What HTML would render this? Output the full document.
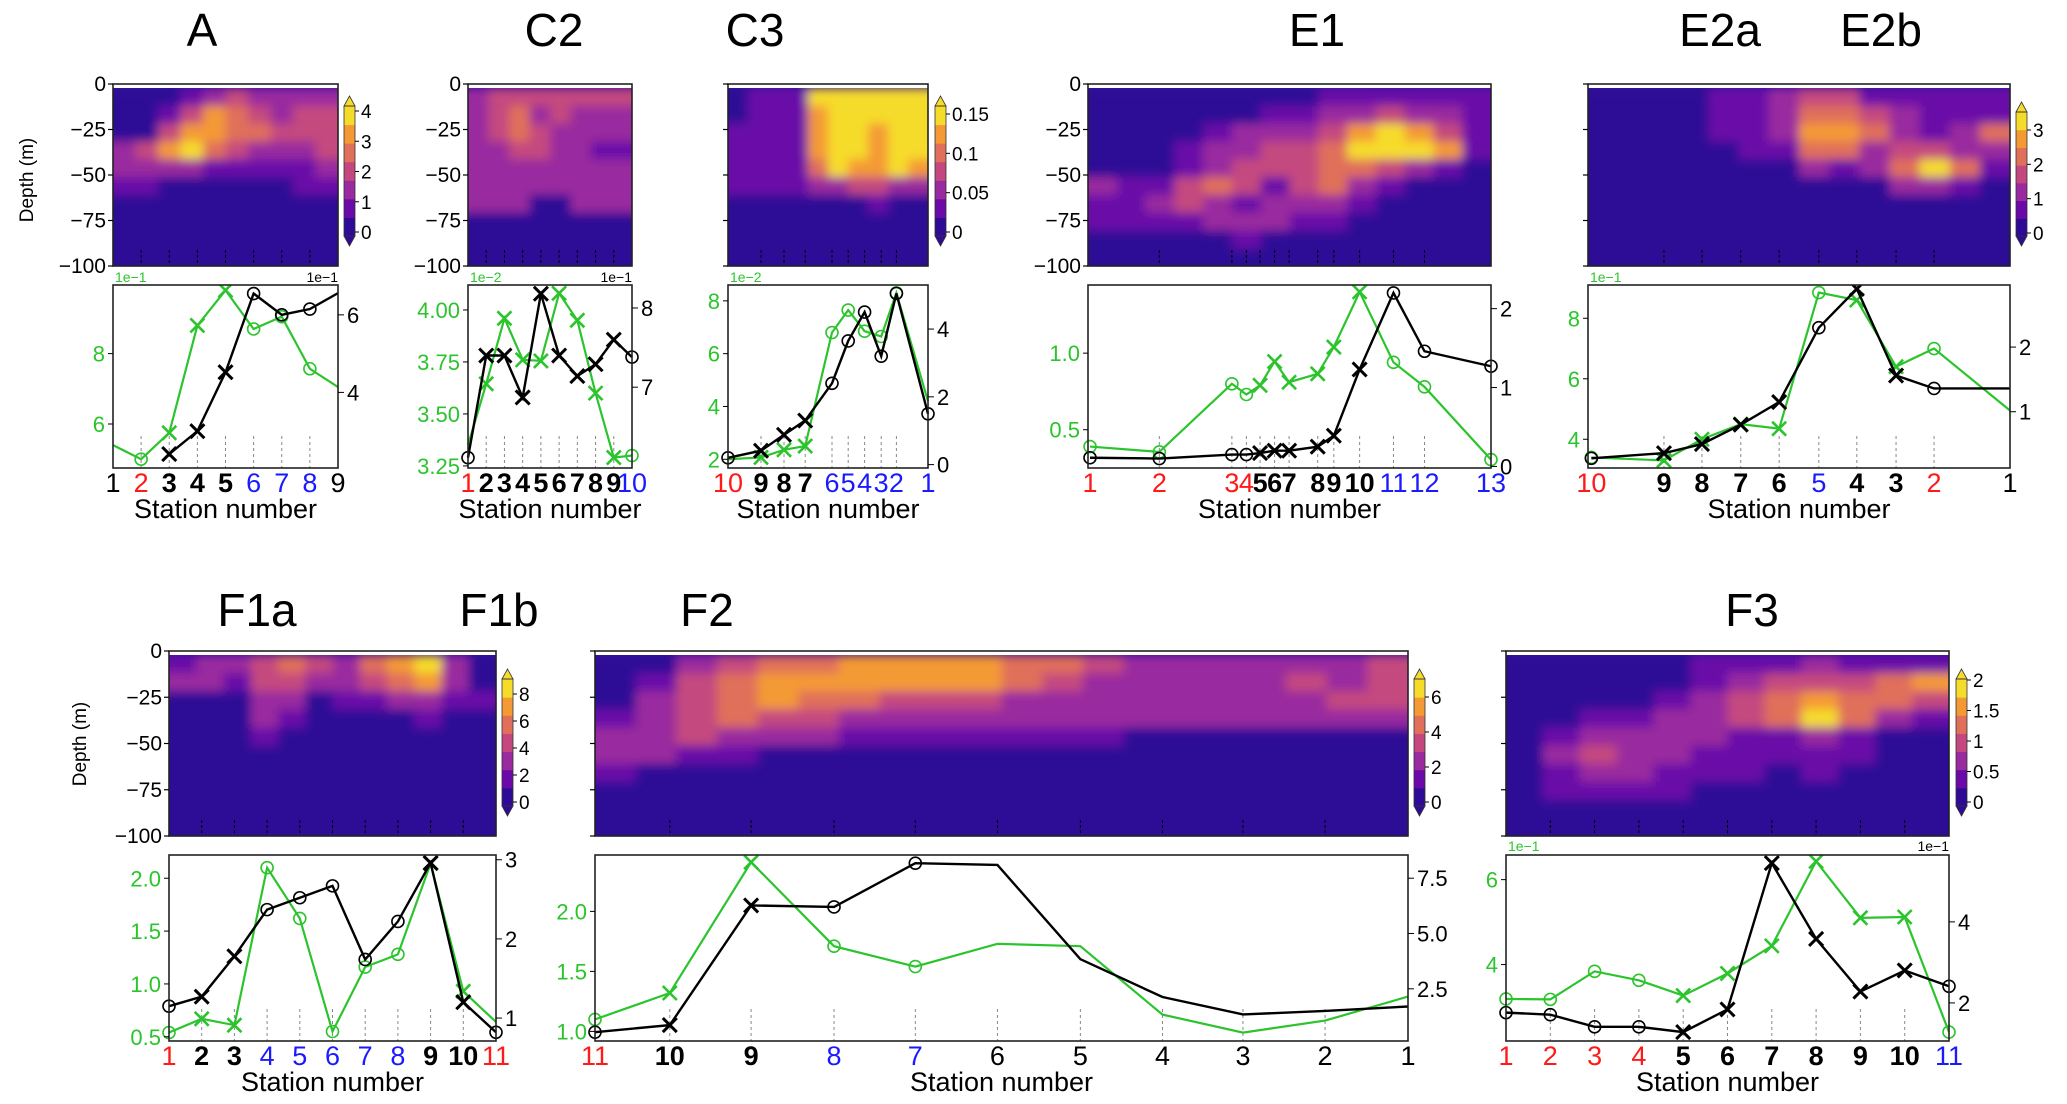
<!DOCTYPE html>
<html><head><meta charset="utf-8"><style>
html,body{margin:0;padding:0;background:#fff;}
svg{display:block;}
text{font-family:"Liberation Sans",sans-serif;}
</style></head><body>
<svg id="fig" xmlns="http://www.w3.org/2000/svg" width="2067" height="1104" viewBox="0 0 2067 1104">
<defs>
<filter id="blur" x="-5%" y="-5%" width="110%" height="110%"><feGaussianBlur stdDeviation="5"/></filter>
</defs>
<g id="root"></g>
</svg>
<script>
// ---------------- DATA ----------------
const A_labels=['1','2','3','4','5','6','7','8','9'];
const A_lstyle=['k','r','b','b','b','u','u','u','k'];
const A_pos=[0,0.125,0.25,0.375,0.5,0.625,0.75,0.875,1];
const A_green=[5.4,5.0,5.75,8.8,9.8,8.7,9.05,7.57,7.05];
const A_gmark=['-','o','x','x','x','o','o','o','-'];
const A_black=[null,null,2.41,3.0,4.52,6.55,6.0,6.15,6.56];
const A_kmark=['-','-','x','x','x','o','o','o','-'];
const A_gticks=[6,8];
const A_kticks=[4,6];
const A_grid=[
[0,0,.1,.25,.4,.45,.35,.3,.4,.35],
[0,0,.15,.45,.7,.6,.5,.35,.5,.5],
[0,0,.45,.7,.8,.65,.55,.45,.5,.5],
[.3,.45,.7,.95,.6,.5,.4,.35,.3,.45],
[.3,.3,.4,.4,.25,.2,.2,.2,.25,.3],
[.2,.15,.1,0,0,0,0,0,.15,.2],
[0,0,0,0,0,0,0,0,0,0],[0,0,0,0,0,0,0,0,0,0],[0,0,0,0,0,0,0,0,0,0],[0,0,0,0,0,0,0,0,0,0]];
const C2_labels=['1','2','3','4','5','6','7','8','9','10'];
const C2_lstyle=['r','b','b','b','b','b','b','b','b','u'];
const C2_pos=[0,1/9,2/9,3/9,4/9,5/9,6/9,7/9,8/9,1];
const C2_green=[3.35,3.645,3.96,3.76,3.755,4.08,3.95,3.6,3.29,3.3];
const C2_gmark=['-','x','x','x','x','x','x','x','x','o'];
const C2_black=[6.11,7.4,7.4,6.87,8.18,7.4,7.14,7.29,7.6,7.38];
const C2_kmark=['o','x','x','x','x','x','x','x','x','o'];
const C2_gticks=[3.25,3.5,3.75,4.0];
const C2_kticks=[7,8];
const C2_grid=[
[.4,.45,.45,.45,.5,.45,.45,.45],
[.4,.5,.55,.4,.45,.4,.35,.35],
[.35,.45,.55,.45,.4,.35,.3,.3],
[.35,.4,.5,.5,.4,.35,.25,.25],
[.35,.35,.4,.35,.35,.3,.3,.3],
[.35,.4,.35,.35,.3,.3,.3,.3],
[.3,.3,.3,.1,.1,.3,.3,.3],
[0,0,0,0,0,0,0,0],[0,0,0,0,0,0,0,0],[0,0,0,0,0,0,0,0]];
const C3_labels=['10','9','8','7','6','5','4','3','2','1'];
const C3_lstyle=['r','b','b','b','u','u','u','u','u','u'];
const C3_pos=[0,0.165,0.28,0.386,0.52,0.601,0.683,0.766,0.842,1];
const C3_green=[2.0,2.07,2.36,2.5,6.8,7.65,6.85,6.65,8.3,4.2];
const C3_gmark=['-','x','x','x','o','o','o','o','o','-'];
const C3_black=[0.2,0.41,0.88,1.3,2.4,3.65,4.5,3.2,5.05,1.5];
const C3_kmark=['o','x','x','x','o','o','o','o','o','o'];
const C3_gticks=[2,4,6,8];
const C3_kticks=[0,2,4];
const C3_grid=[
[0,.25,.25,.25,.9,.9,.9,.9,.9,.9],
[0,.25,.25,.25,.7,.9,.85,.9,.95,.9],
[.2,.25,.25,.25,.8,1,.9,.8,1,.9],
[.2,.25,.25,.25,.8,1,.95,.75,1,.9],
[.25,.25,.25,.25,.6,.85,.8,.7,.85,.7],
[.2,.2,.2,.2,.3,.4,.45,.5,.4,.3],
[0,0,0,0,0,0,0,.15,0,0],
[0,0,0,0,0,0,0,0,0,0],[0,0,0,0,0,0,0,0,0,0],[0,0,0,0,0,0,0,0,0,0]];
const E1_labels=['1','2','3','4','5','6','7','8','9','10','11','12','13'];
const E1_lstyle=['r','r','r','r','b','b','b','b','b','b','u','u','u'];
const E1_pos=[0.005,0.177,0.357,0.393,0.427,0.463,0.499,0.57,0.61,0.674,0.758,0.835,1];
const E1_green=[0.39,0.355,0.8,0.73,0.79,0.945,0.81,0.865,1.04,1.4,0.94,0.78,0.305];
const E1_gmark=['o','o','o','o','x','x','x','x','x','x','o','o','o'];
const E1_black=[0.11,0.1,0.15,0.15,0.17,0.2,0.2,0.25,0.39,1.23,2.2,1.46,1.27];
const E1_kmark=['o','o','o','o','x','x','x','x','x','x','o','o','o'];
const E1_gticks=[0.5,1.0];
const E1_kticks=[0,1,2];
const E1_grid=[
[0,0,0,0,0,0,0,0,.2,.25,.25,.25,.25,.2],
[0,0,0,0,0,.1,.2,.25,.3,.35,.45,.4,.3,.25],
[0,0,0,0,.2,.3,.3,.35,.45,.8,.85,.7,.5,.25],
[0,0,0,.2,.3,.4,.45,.5,.65,.9,.95,.95,.75,.2],
[0,0,0,.25,.4,.5,.45,.5,.6,.6,.5,.3,.2,0],
[.3,.2,.2,.45,.55,.45,.2,.45,.55,.3,.2,0,0,0],
[.25,.25,.35,.45,.35,.2,.4,.3,.3,.2,0,0,0,0],
[.2,.2,.25,.25,.3,.4,.3,.2,.2,0,0,0,0,0],
[0,0,0,0,.1,.2,.1,0,0,0,0,0,0,0],
[0,0,0,0,0,0,0,0,0,0,0,0,0,0]];
const E2_labels=['10','9','8','7','6','5','4','3','2','1'];
const E2_lstyle=['r','b','b','b','b','u','b','b','r','k'];
const E2_pos=[0.008,0.18,0.27,0.362,0.453,0.547,0.637,0.73,0.82,1];
const E2_green=[3.4,3.3,4.0,4.5,4.35,8.85,8.6,6.4,7.0,4.95];
const E2_gmark=['o','x','x','x','x','o','x','x','o','-'];
const E2_black=[0.28,0.36,0.5,0.8,1.15,2.3,2.9,1.56,1.36,1.36];
const E2_kmark=['o','x','x','x','x','o','x','x','o','-'];
const E2_gticks=[4,6,8];
const E2_kticks=[1,2];
const E2_grid=[
[0,0,0,0,.25,.25,.3,.45,.5,.25,.25,.25,.25,.25],
[0,0,0,0,.2,.2,.35,.55,.6,.45,.3,.25,.25,.25],
[0,0,0,0,.2,.25,.3,.7,.75,.55,.3,.25,.35,.65],
[0,0,0,0,.1,.2,.25,.6,.55,.4,.45,.5,.4,.3],
[0,0,0,0,0,.1,.1,.3,.25,.3,.55,.85,.6,.2],
[0,0,0,0,0,0,0,0,0,.1,.3,.4,.2,0],
[0,0,0,0,0,0,0,0,0,0,0,0,0,0],[0,0,0,0,0,0,0,0,0,0,0,0,0,0],[0,0,0,0,0,0,0,0,0,0,0,0,0,0],[0,0,0,0,0,0,0,0,0,0,0,0,0,0]];
const F1_labels=['1','2','3','4','5','6','7','8','9','10','11'];
const F1_lstyle=['r','b','b','u','u','u','u','u','b','b','r'];
const F1_pos=[0,.1,.2,.3,.4,.5,.6,.7,.8,.9,1];
const F1_green=[0.54,0.67,0.61,2.1,1.62,0.55,1.16,1.28,2.14,0.93,0.64];
const F1_gmark=['o','x','x','o','o','o','o','o','x','x','-'];
const F1_black=[1.15,1.27,1.78,2.37,2.52,2.67,1.74,2.22,2.96,1.2,0.82];
const F1_kmark=['o','x','x','o','o','o','o','o','x','x','o'];
const F1_gticks=[0.5,1.0,1.5,2.0];
const F1_kticks=[1,2,3];
const F1_grid=[
[.25,.3,.3,.5,.55,.45,.35,.55,.7,.9,.3,0],
[.3,.35,.25,.45,.5,.3,.3,.45,.6,.7,.3,.1],
[0,0,.1,.35,.3,.1,.15,.2,.3,.4,.2,.15],
[0,0,0,.3,.15,0,0,0,.1,.2,0,.05],
[0,0,0,.2,0,0,0,0,0,0,0,.05],
[0,0,0,0,0,0,0,0,0,0,0,0],[0,0,0,0,0,0,0,0,0,0,0,0],[0,0,0,0,0,0,0,0,0,0,0,0],[0,0,0,0,0,0,0,0,0,0,0,0],[0,0,0,0,0,0,0,0,0,0,0,0]];
const F2_labels=['11','10','9','8','7','6','5','4','3','2','1'];
const F2_lstyle=['r','b','b','u','u','k','k','k','k','k','k'];
const F2_pos=[0,0.092,0.192,0.294,0.394,0.495,0.597,0.698,0.797,0.898,1];
const F2_green=[1.1,1.32,2.41,1.71,1.54,1.73,1.71,1.14,0.99,1.09,1.29];
const F2_gmark=['o','x','x','o','o','-','-','-','-','-','-'];
const F2_black=[0.54,0.86,6.27,6.2,8.18,8.1,3.84,2.13,1.34,1.5,1.7];
const F2_kmark=['o','x','x','o','o','-','-','-','-','-','-'];
const F2_gticks=[1.0,1.5,2.0];
const F2_kticks=[2.5,5.0,7.5];
const F2_grid=[
[0,0,.3,.5,.6,.65,.7,.7,.7,.7,.65,.6,.5,.4,.35,.35,.35,.35,.4,.5],
[0,.25,.45,.6,.75,.75,.7,.75,.8,.75,.6,.5,.4,.35,.35,.35,.4,.5,.4,.45],
[0,.35,.45,.55,.75,.65,.55,.5,.45,.45,.4,.35,.35,.35,.35,.35,.35,.35,.45,.45],
[.25,.35,.5,.55,.5,.45,.35,.35,.35,.3,.3,.3,.3,.3,.3,.3,.3,.3,.3,.3],
[.3,.4,.45,.4,.3,.3,.25,.25,.25,.2,.2,.2,.2,.1,.1,.1,.1,.1,.1,.1],
[.35,.3,.25,.2,.1,.05,0,0,0,0,0,0,0,0,0,0,0,0,0,0],
[.2,.1,0,0,0,0,0,0,0,0,0,0,0,0,0,0,0,0,0,0],
[0,0,0,0,0,0,0,0,0,0,0,0,0,0,0,0,0,0,0,0],[0,0,0,0,0,0,0,0,0,0,0,0,0,0,0,0,0,0,0,0],[0,0,0,0,0,0,0,0,0,0,0,0,0,0,0,0,0,0,0,0]];
const F3_labels=['1','2','3','4','5','6','7','8','9','10','11'];
const F3_lstyle=['r','r','r','r','b','b','b','b','b','b','u'];
const F3_pos=[0,.1,.2,.3,.4,.5,.6,.7,.8,.9,1];
const F3_green=[3.19,3.18,3.84,3.63,3.27,3.79,4.44,6.43,5.1,5.12,2.41];
const F3_gmark=['o','o','o','o','x','x','x','x','x','x','o'];
const F3_black=[1.76,1.71,1.41,1.41,1.28,1.84,5.45,3.58,2.28,2.8,2.41];
const F3_kmark=['o','o','o','o','x','x','x','x','x','x','o'];
const F3_gticks=[4,6];
const F3_kticks=[2,4];
const F3_grid=[
[0,0,0,0,0,.25,.25,.25,.3,.25,.25,.25],
[0,0,0,0,.1,.25,.3,.45,.5,.45,.55,.75],
[0,0,0,0,.2,.3,.5,.6,.7,.6,.65,.5],
[.1,.1,.2,.25,.3,.35,.45,.65,.95,.65,.3,.2],
[.1,.25,.35,.3,.35,.3,.25,.2,.3,.2,.1,.1],
[.1,.35,.5,.4,.3,.25,.2,.2,.25,.2,.1,0],
[.1,.2,.35,.3,.25,.2,.15,.1,.15,.1,0,0],
[0,.2,.25,.2,.15,.1,.1,0,0,0,0,0],
[0,0,.1,.05,0,0,0,0,0,0,0,0],
[0,0,0,0,0,0,0,0,0,0,0,0]];
const A_cbticks=['0','1','2','3','4'];
const C3_cbticks=['0','0.05','0.1','0.15'];
const E2_cbticks=['0','1','2','3'];
const F1_cbticks=['0','2','4','6','8'];
const F2_cbticks=['0','2','4','6'];
const F3_cbticks=['0','0.5','1','1.5','2'];
const depthTicks=[0,-25,-50,-75,-100];

// ---------------- RENDER ----------------
const NS='http://www.w3.org/2000/svg';
const root=document.getElementById('root');
function el(tag,attrs,parent){const e=document.createElementNS(NS,tag);for(const k in attrs)e.setAttribute(k,attrs[k]);(parent||root).appendChild(e);return e;}
const BANDS=['#2f0a96','#6b0aa8','#9a2a9f','#c4487f','#e0705a','#f49a34','#f6dc2a'];
function bandColor(v){let i=Math.floor(v*7+0.15);if(i<0)i=0;if(i>6)i=6;return BANDS[i];}
let clipN=0;
function contour(name,x0,x1,y0,y1,grid,ticksPos,showLabels){
  const g=el('g',{});
  
  
  const id='clip'+(clipN++);
  const cp=el('clipPath',{id:id},g);el('rect',{x:x0,y:y0,width:x1-x0,height:y1-y0},cp);
  const inner=el('g',{'clip-path':'url(#'+id+')'},g);
  el('rect',{x:x0,y:y0,width:x1-x0,height:y1-y0,fill:BANDS[0]},inner);
  const bl=el('g',{filter:'url(#blur)'},inner);
  const rows=grid.length,cols=grid[0].length;
  const dy0=y0+4;const ch=(y1-dy0)/rows,cw=(x1-x0)/cols;
  for(let r=0;r<rows;r++)for(let c=0;c<cols;c++){
    let x=x0+c*cw,w=cw+0.6,y=dy0+r*ch,h=ch+0.6;
    if(c===0){x-=20;w+=20;} if(c===cols-1){w+=20;} if(r===rows-1){h+=20;}
    const cell=el('rect',{x:x,y:y,width:w,height:h,fill:bandColor(grid[r][c])},bl);
    
    
  }
  el('rect',{x:x0,y:y0,width:x1-x0,height:4,fill:'#fff'},inner);
  ticksPos.forEach(p=>{if(p>0.02&&p<0.98){const x=x0+p*(x1-x0);el('line',{x1:x,x2:x,y1:y1-16,y2:y1,stroke:'#000','stroke-width':1,'stroke-dasharray':'3,2'},g);}});
  el('rect',{x:x0,y:y0,width:x1-x0,height:y1-y0,fill:'none',stroke:'#222','stroke-width':1.6},g);
  depthTicks.forEach(d=>{const y=y0+(-d)/100*(y1-y0);el('line',{x1:x0-5,x2:x0,y1:y,y2:y,stroke:'#000','stroke-width':1.2},g);
    if(showLabels){const t=el('text',{x:x0-7,y:y+7,'text-anchor':'end','font-size':21,fill:'#000'},g);t.textContent=(d<0?'\u2212'+(-d):'0');}});
}
function colorbar(name,x,yTop,yBot){
  const g=el('g',{});
  
  
  const w=11,h=yBot-yTop,bh=h/7;
  for(let i=0;i<7;i++){el('rect',{x:x,y:yBot-(i+1)*bh,width:w,height:bh+0.5,fill:BANDS[i]},g);}
  el('polygon',{points:`${x},${yTop} ${x+w},${yTop} ${x+w/2},${yTop-10}`,fill:BANDS[6],stroke:'#333','stroke-width':0.8},g);
  el('polygon',{points:`${x},${yBot} ${x+w},${yBot} ${x+w/2},${yBot+10}`,fill:BANDS[0],stroke:'#333','stroke-width':0.8},g);
  el('rect',{x:x,y:yTop,width:w,height:h,fill:'none',stroke:'#333','stroke-width':0.8},g);
  return g;
}
function colorbarTicks(g,x,yZero,yTopTick,labels){
  const n=labels.length;
  labels.forEach((l,i)=>{const y=yZero-(yZero-yTopTick)*i/(n-1);
    el('line',{x1:x+11,x2:x+15,y1:y,y2:y,stroke:'#000','stroke-width':1},g);
    const t=el('text',{x:x+17,y:y+7,'font-size':19,fill:'#000'},g);t.textContent=l;});
}
const GREEN='#2cc42c';
function marker(g,type,x,y,col,sw){
  if(type==='o'){const c=el('circle',{cx:x,cy:y,r:6,fill:'none',stroke:col,'stroke-width':1.6},g);}
  else if(type==='x'){const s=7;const p=el('path',{d:`M${x-s},${y-s}L${x+s},${y+s}M${x-s},${y+s}L${x+s},${y-s}`,stroke:col,'stroke-width':sw,fill:'none'},g);}
}
function linePlot(name,x0,x1,y0,y1,pos,green,gmark,black,kmark,gr,kr,gticks,kticks,labels,lstyle,gfmt,kfmt){
  const g=el('g',{});
  
  
  const X=p=>x0+p*(x1-x0);
  const YG=v=>y1-(v-gr[0])/(gr[1]-gr[0])*(y1-y0);
  const YK=v=>y1-(v-kr[0])/(kr[1]-kr[0])*(y1-y0);
  pos.forEach(p=>{if(p>0.02&&p<0.98){el('line',{x1:X(p),x2:X(p),y1:y1-32,y2:y1,stroke:'#888','stroke-width':1,'stroke-dasharray':'3,3'},g);}});
  const id='clip'+(clipN++);
  const cp=el('clipPath',{id:id},g);el('rect',{x:x0-8,y:y0,width:x1-x0+16,height:y1-y0},cp);
  const inner=el('g',{'clip-path':'url(#'+id+')'},g);
  let d='';green.forEach((v,i)=>{if(v!=null)d+=(d?'L':'M')+X(pos[i])+','+YG(v);});
  const gl=el('path',{d:d,fill:'none',stroke:GREEN,'stroke-width':2.2},inner);
  
  green.forEach((v,i)=>{if(v!=null)marker(inner,gmark[i],X(pos[i]),YG(v),GREEN,2.6);});
  d='';black.forEach((v,i)=>{if(v!=null)d+=(d?'L':'M')+X(pos[i])+','+YK(v);});
  const kl=el('path',{d:d,fill:'none',stroke:'#000','stroke-width':2.4},inner);
  
  black.forEach((v,i)=>{if(v!=null)marker(inner,kmark[i],X(pos[i]),YK(v),'#000',3);});
  el('rect',{x:x0,y:y0,width:x1-x0,height:y1-y0,fill:'none',stroke:'#222','stroke-width':1.6},g);
  gticks.forEach(v=>{const y=YG(v);el('line',{x1:x0-5,x2:x0,y1:y,y2:y,stroke:'#000','stroke-width':1},g);
    const t=el('text',{x:x0-8,y:y+8,'text-anchor':'end','font-size':22,fill:GREEN},g);t.textContent=v.toFixed(gfmt);});
  kticks.forEach(v=>{const y=YK(v);el('line',{x1:x1,x2:x1+6,y1:y,y2:y,stroke:'#000','stroke-width':1},g);
    const t=el('text',{x:x1+9,y:y+8,'font-size':22,fill:'#000'},g);t.textContent=v.toFixed(kfmt);});
  const cmap={r:'#ff1a1a',u:'#1a1aff',k:'#000',b:'#000'};
  labels.forEach((l,i)=>{const t=el('text',{x:X(pos[i]),y:y1+24,'text-anchor':'middle','font-size':27,fill:cmap[lstyle[i]],'font-weight':lstyle[i]==='b'?'bold':'normal'},g);
    t.textContent=l;});
  const xt=el('text',{x:(x0+x1)/2,y:y1+50,'text-anchor':'middle','font-size':27,fill:'#000'},g);xt.textContent='Station number';
  
}
function txt(name,s,x,y,size,anchor,fill){const t=el('text',{x:x,y:y,'font-size':size,'text-anchor':anchor||'middle',fill:fill||'#000'});t.textContent=s;
  return t;}

const TC=[84,266],TL=[285,468];
contour('a',113,338,TC[0],TC[1],A_grid,A_pos,true);
contour('c2',468,632,TC[0],TC[1],C2_grid,C2_pos,true);
contour('c3',728,928,TC[0],TC[1],C3_grid,C3_pos,false);
contour('e1',1088,1491,TC[0],TC[1],E1_grid,E1_pos,true);
contour('e2',1588,2010,TC[0],TC[1],E2_grid,E2_pos,false);
let cb;
cb=colorbar('a',344,106,236);colorbarTicks(cb,344,232,111,A_cbticks);
cb=colorbar('c3',935,106,236);colorbarTicks(cb,935,232,114,C3_cbticks);
cb=colorbar('e2',2016,112,236);colorbarTicks(cb,2016,233,130,E2_cbticks);
linePlot('a',113,338,TL[0],TL[1],A_pos,A_green,A_gmark,A_black,A_kmark,[4.75,9.95],[2.05,6.77],A_gticks,A_kticks,A_labels,A_lstyle,0,0);
linePlot('c2',468,632,TL[0],TL[1],C2_pos,C2_green,C2_gmark,C2_black,C2_kmark,[3.24,4.12],[5.98,8.29],C2_gticks,C2_kticks,C2_labels,C2_lstyle,2,0);
linePlot('c3',728,928,TL[0],TL[1],C3_pos,C3_green,C3_gmark,C3_black,C3_kmark,[1.67,8.6],[-0.1,5.3],C3_gticks,C3_kticks,C3_labels,C3_lstyle,0,0);
linePlot('e1',1088,1491,TL[0],TL[1],E1_pos,E1_green,E1_gmark,E1_black,E1_kmark,[0.25,1.445],[-0.02,2.3],E1_gticks,E1_kticks,E1_labels,E1_lstyle,1,0);
linePlot('e2',1588,2010,TL[0],TL[1],E2_pos,E2_green,E2_gmark,E2_black,E2_kmark,[3.05,9.1],[0.13,2.96],E2_gticks,E2_kticks,E2_labels,E2_lstyle,0,0);
const BC=[651,836],BL=[855,1041];
contour('f1',169,496,BC[0],BC[1],F1_grid,F1_pos,true);
contour('f2',595,1408,BC[0],BC[1],F2_grid,F2_pos,false);
contour('f3',1506,1949,BC[0],BC[1],F3_grid,F3_pos,false);
cb=colorbar('f1',502,679,806);colorbarTicks(cb,502,802,694,F1_cbticks);
cb=colorbar('f2',1414,679,806);colorbarTicks(cb,1414,802,697,F2_cbticks);
cb=colorbar('f3',1956,679,806);colorbarTicks(cb,1956,802,680,F3_cbticks);
linePlot('f1',169,496,BL[0],BL[1],F1_pos,F1_green,F1_gmark,F1_black,F1_kmark,[0.46,2.22],[0.71,3.06],F1_gticks,F1_kticks,F1_labels,F1_lstyle,1,0);
linePlot('f2',595,1408,BL[0],BL[1],F2_pos,F2_green,F2_gmark,F2_black,F2_kmark,[0.92,2.47],[0.14,8.55],F2_gticks,F2_kticks,F2_labels,F2_lstyle,1,1);
linePlot('f3',1506,1949,BL[0],BL[1],F3_pos,F3_green,F3_gmark,F3_black,F3_kmark,[2.2,6.58],[1.06,5.65],F3_gticks,F3_kticks,F3_labels,F3_lstyle,0,0);

[['A',202,46],['C2',554,46],['C3',755,46],['E1',1317,46],['E2a',1720,46],['E2b',1881,46],
 ['F1a',257,626],['F1b',499,626],['F2',707,626],['F3',1752,626]].forEach(t=>txt('panel-title',t[0],t[1],t[2],46));
let dt=txt('y-axis-title','Depth (m)',0,0,19);dt.setAttribute('transform','translate(33,180) rotate(-90)');dt.setAttribute('font-family','DejaVu Sans, sans-serif');
dt=txt('y-axis-title','Depth (m)',0,0,19);dt.setAttribute('transform','translate(86,744) rotate(-90)');dt.setAttribute('font-family','DejaVu Sans, sans-serif');
txt('scale-label','1e\u22121',115,282,14,'start',GREEN);txt('scale-label','1e\u22121',338,282,14,'end');
txt('scale-label','1e\u22122',470,282,14,'start',GREEN);txt('scale-label','1e\u22121',632,282,14,'end');
txt('scale-label','1e\u22122',730,282,14,'start',GREEN);
txt('scale-label','1e\u22121',1590,282,14,'start',GREEN);
txt('scale-label','1e\u22121',1508,851,14,'start',GREEN);txt('scale-label','1e\u22121',1949,851,14,'end');
</script>
</body></html>
